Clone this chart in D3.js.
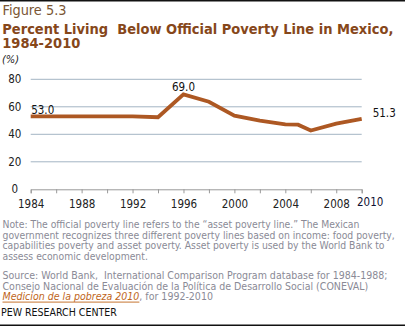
<!DOCTYPE html>
<html><head><meta charset="utf-8">
<script src="https://cdn.jsdelivr.net/npm/d3@7"></script>
<style>
html,body{margin:0;padding:0;background:#fff;}
svg{display:block;}
text{font-family:"DejaVu Sans Condensed","DejaVu Sans",sans-serif;}
</style></head>
<body>
<svg id="chart" width="405" height="328"></svg>
<script>
const years = [1984, 1992, 1994, 1996, 1998, 2000, 2002, 2004, 2005, 2006, 2008, 2010];
const values = [53.0, 53.1, 52.4, 69.0, 63.7, 53.6, 50.0, 47.2, 47.0, 42.7, 47.7, 51.3];
const labelledYears = [1984, 1996, 2010];
const yTicks = [0, 20, 40, 60, 80];
const xTickYears = d3.range(1984, 2011, 2);
const xLabelYears = [1984, 1988, 1992, 1996, 2000, 2004, 2008];
const extraXLabel = "2010";

const figureLabel = "Figure 5.3";
const titleLines = ["Percent Living  Below Official Poverty Line in Mexico,", "1984-2010"];
const unitLabel = "(%)";
const noteLines = [
  "Note: The official poverty line refers to the \u201casset poverty line.\u201d The Mexican",
  "government recognizes three different poverty lines based on income: food poverty,",
  "capabilities poverty and asset poverty. Asset poverty is used by the World Bank to",
  "assess economic development."
];
const sourceLines = [
  "Source: World Bank,  International Comparison Program database for 1984-1988;",
  "Consejo Nacional de Evaluaci\u00f3n de la Pol\u00edtica de Desarrollo Social (CONEVAL)"
];
const sourceLink = "Medicion de la pobreza 2010";
const sourceTail = ", for 1992-2010";
const credit = "PEW RESEARCH CENTER";

const svg = d3.select("#chart");

function fit(sel, w) {
  const n = sel.node();
  const cur = parseFloat(sel.attr("font-size"));
  const m = n.getComputedTextLength();
  sel.attr("font-size", (cur * w / m).toFixed(2));
}

// rules
svg.append("rect").attr("x", 0).attr("y", 0).attr("width", 405).attr("height", 1.5).attr("fill", "#111");
svg.append("rect").attr("x", 0).attr("y", 324.5).attr("width", 405).attr("height", 1.5).attr("fill", "#111");

// header
const fig = svg.append("text").attr("x", 2.5).attr("y", 15).attr("font-size", 13)
  .attr("fill", "#7a5634").text(figureLabel);
fit(fig, 64);
const t1 = svg.append("text").attr("x", 2.3).attr("y", 33.5).attr("font-size", 13)
  .attr("font-weight", "bold").attr("fill", "#86471a").style("white-space", "pre").text(titleLines[0]);
fit(t1, 391);
const tSize = t1.attr("font-size");
svg.append("text").attr("x", 2.3).attr("y", 48.3).attr("font-size", tSize)
  .attr("font-weight", "bold").attr("fill", "#86471a").text(titleLines[1]);
svg.append("text").attr("x", 2).attr("y", 63).attr("font-size", 11)
  .attr("font-style", "italic").attr("fill", "#222").text(unitLabel);

// scales
const x = d3.scaleLinear().domain([1984, 2010]).range([30.7, 361.7]);
const y = d3.scaleLinear().domain([0, 80]).range([189.3, 79.3]);

// gridlines
svg.append("g").selectAll("line").data(yTicks.filter(d => d > 0)).join("line")
  .attr("x1", x(1984)).attr("x2", x(2010))
  .attr("y1", d => y(d)).attr("y2", d => y(d))
  .attr("stroke", "#a3b4c4").attr("stroke-width", 1);

// y labels
svg.append("g").selectAll("text").data(yTicks).join("text")
  .attr("x", 14.8).attr("y", d => y(d)).attr("dy", "0.35em")
  .attr("text-anchor", "middle").attr("font-size", 11.5).attr("fill", "#222")
  .text(d => d);

// x axis
const xAxis = d3.axisBottom(x).tickValues(xTickYears).tickSize(4)
  .tickFormat(d => xLabelYears.includes(d) ? String(d) : "");
const gx = svg.append("g").attr("transform", `translate(0,${y(0)})`).call(xAxis);
gx.select(".domain").attr("stroke", "#999").attr("stroke-width", 1);
gx.selectAll(".tick line").attr("stroke", "#999");
gx.selectAll(".tick text").attr("font-size", 11.5).attr("fill", "#222")
  .attr("font-family", '"DejaVu Sans Condensed","DejaVu Sans",sans-serif').attr("dy", "1.05em").attr("y", 6.5);
svg.append("text").attr("x", x(2010) + 8.5).attr("y", 206).attr("text-anchor", "middle")
  .attr("font-size", 11.5).attr("fill", "#111133").text(extraXLabel);

// line
const pts = years.map((yr, i) => ({yr, v: values[i]}));
svg.append("path").datum(pts)
  .attr("fill", "none").attr("stroke", "#ad5823").attr("stroke-width", 3.8)
  .attr("stroke-linejoin", "miter")
  .attr("d", d3.line().x(d => x(d.yr)).y(d => y(d.v)));

// value labels
const lab = pts.filter(d => labelledYears.includes(d.yr));
svg.append("g").selectAll("text").data(lab).join("text")
  .attr("x", d => d.yr === 1984 ? x(d.yr) + 0.5 : d.yr === 2010 ? x(d.yr) + 11 : x(d.yr))
  .attr("y", d => d.yr === 1996 ? y(d.v) - 3.5 : d.yr === 1984 ? y(d.v) - 2.5 : y(d.v) - 2)
  .attr("text-anchor", d => d.yr === 1996 ? "middle" : "start")
  .attr("font-size", 11.5).attr("fill", "#111")
  .text(d => d.v.toFixed(1));

// notes
const noteY = [227.5, 238.5, 249.2, 260];
const nt = svg.append("g");
noteLines.forEach((s, i) => {
  nt.append("text").attr("x", 2.5).attr("y", noteY[i]).attr("font-size", 10.5)
    .attr("fill", "#8a8a96").text(s);
});
const n0 = nt.select("text");
fit(n0, 357);
nt.selectAll("text").attr("font-size", n0.attr("font-size"));

const srcY = [279.3, 289.8, 300.3];
const sg = svg.append("g");
sourceLines.forEach((s, i) => {
  sg.append("text").attr("x", 2.5).attr("y", srcY[i]).attr("font-size", 10.5)
    .attr("fill", "#8a8a96").style("white-space", "pre").text(s);
});
const s0 = sg.select("text");
fit(s0, 385);
const sSize = s0.attr("font-size");
sg.selectAll("text").attr("font-size", sSize);
const linkT = sg.append("text").attr("x", 2.5).attr("y", srcY[2]).attr("font-size", sSize)
  .attr("font-style", "italic").attr("fill", "#c0651a").text(sourceLink);
const lw = linkT.node().getComputedTextLength();
sg.append("line").attr("x1", 2.5).attr("x2", 2.5 + lw).attr("y1", srcY[2] + 1.8).attr("y2", srcY[2] + 1.8)
  .attr("stroke", "#c0651a").attr("stroke-width", 0.9);
sg.append("text").attr("x", 2.5 + lw).attr("y", srcY[2]).attr("font-size", sSize)
  .attr("fill", "#8a8a96").text(sourceTail);

const cr = svg.append("text").attr("x", 1).attr("y", 315.5).attr("font-size", 10)
  .attr("fill", "#111").style("white-space", "pre").text(credit);
fit(cr, 116);
</script>
</body></html>
